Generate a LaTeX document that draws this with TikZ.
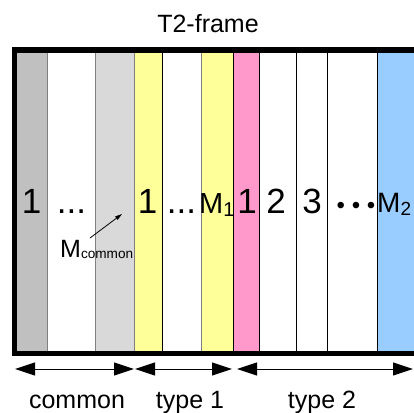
\documentclass[tikz,border=0pt]{standalone}
\usepackage{fontspec}
\setmainfont{Liberation Sans}
\usetikzlibrary{arrows.meta}
\definecolor{dgrey}{HTML}{C0C0C0}
\definecolor{lgrey}{HTML}{D9D9D9}
\definecolor{lyel}{HTML}{FFFF99}
\definecolor{lpink}{HTML}{FF99CC}
\definecolor{lblue}{HTML}{99CCFF}
\definecolor{edgegrey}{HTML}{808080}
\newcommand{\msub}[4]{{\fontsize{#1}{#1}\selectfont M}{\fontsize{#2}{#2}\selectfont\raisebox{-#3pt}{#4}}}
\begin{document}
\begin{tikzpicture}[x=1pt,y=-1pt,
  stripe/.style={draw=black, line width=1pt, inner sep=0pt, outer sep=0pt, anchor=north west, minimum height=299pt},
  gstripe/.style={stripe, draw=edgegrey},
  big/.style={font=\fontsize{35}{40}\selectfont, inner sep=0pt, anchor=base},
  mlab/.style={inner sep=0pt, anchor=base west},
  span/.style={{Triangle[length=20pt,width=13pt]}-{Triangle[length=20pt,width=13pt]}, line width=1pt},
  lab/.style={font=\fontsize{25}{30}\selectfont, inner sep=0pt, anchor=base}]
\useasboundingbox (0,0) rectangle (414,412);
\clip (0,0) rectangle (414,412);
% stripes
\node[gstripe, fill=dgrey, minimum width=31pt] (s1) at (16,52) {};
\node[gstripe, fill=white, minimum width=48pt] (s2) at (47,52) {};
\node[gstripe, fill=lgrey, minimum width=39pt] (s3) at (95,52) {};
\node[stripe, draw=edgegrey, fill=lyel, minimum width=28pt] (s4) at (134,52) {};
\node[stripe, fill=white, minimum width=39pt] (s5) at (162,52) {};
\node[gstripe, fill=lyel, minimum width=32pt] (s6) at (201,52) {};
\node[stripe, fill=lpink, minimum width=26pt] (s7) at (233,52) {};
\node[stripe, fill=white, minimum width=37pt] (s8) at (259,52) {};
\node[stripe, fill=white, minimum width=31pt] (s9) at (296,52) {};
\node[stripe, fill=white, minimum width=50pt] (s10) at (327,52) {};
\node[stripe, fill=lblue, minimum width=50pt] (s11) at (377,52) {};
% frame
\coordinate (fTR) at (420,50);
\coordinate (fTL) at (14,50);
\coordinate (fBL) at (14,353);
\coordinate (fBR) at (420,353);
\draw[line width=5pt] (fTR) -- (fTL) -- (fBL) -- (fBR);
% title
\node[font=\fontsize{25}{30}\selectfont, inner sep=0pt, anchor=base] (title) at (208,33) {T2-frame};
% stripe labels
\node[big] (t1) at (31.5,213) {1};
\node[big] (t2) at (71.5,213) {...};
\node[big] (t3) at (147.5,213) {1};
\node[big] (t4) at (181.5,213) {...};
\node[mlab] (t5) at (199,213) {\msub{29}{20}{3}{1}};
\node[big] (t6) at (247,213) {1};
\node[big] (t7) at (276,213) {2};
\node[big] (t8) at (312,213) {3};
\node[font=\fontsize{24}{28}\selectfont, inner sep=0pt, anchor=base] (t9) at (356,213) {• • •};
\node[mlab] (t10) at (377,212) {\msub{28}{19}{3}{2}};
% M common
\node[mlab] (mc) at (60,257) {\msub{25}{13.6}{1.5}{common}};
\coordinate (mcA) at (90,238);
\coordinate (mcB) at (122,214);
\draw[-{Triangle[length=7pt,width=4pt]}, line width=0.8pt] (mcA) -- (mcB);
% bottom spans
\coordinate (c1) at (15,369);
\coordinate (c2) at (134,369);
\coordinate (p1) at (135,369);
\coordinate (p2) at (232,369);
\coordinate (q1) at (237,369);
\coordinate (q2) at (413,369);
\draw[span] (c1) -- (c2);
\draw[span] (p1) -- (p2);
\draw[span] (q1) -- (q2);
\node[lab] (lc) at (77,408) {common};
\node[lab] (l1) at (190,408) {type 1};
\node[lab] (l2) at (322,408) {type 2};
\end{tikzpicture}
\end{document}
